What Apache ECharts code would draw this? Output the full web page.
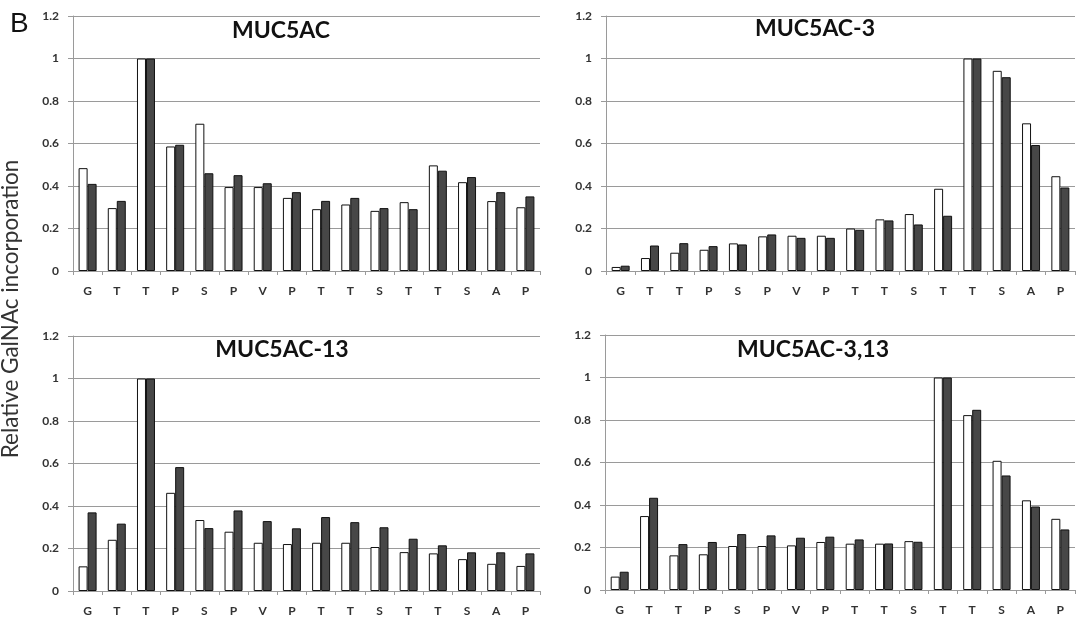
<!DOCTYPE html>
<html>
<head>
<meta charset="utf-8">
<script src="https://cdn.jsdelivr.net/npm/echarts@6/dist/echarts.min.js"></script>
<style>html,body{margin:0;padding:0;background:#fff;}#c{width:1081px;height:628px;}</style>
</head>
<body>
<div id="c"></div>
<script>
const categories = ['G','T','T','P','S','P','V','P','T','T','S','T','T','S','A','P'];
const yTicks = ['0','0.2','0.4','0.6','0.8','1','1.2'];
const titles = ['MUC5AC','MUC5AC-3','MUC5AC-13','MUC5AC-3,13'];

const muc5acWhite = [0.484,0.296,1.0,0.586,0.693,0.395,0.395,0.344,0.291,0.313,0.283,0.324,0.497,0.418,0.329,0.300];
const muc5acDark  = [0.410,0.330,1.0,0.594,0.460,0.451,0.413,0.371,0.330,0.344,0.296,0.291,0.472,0.442,0.371,0.351];

const muc5ac3White = [0.019,0.061,0.086,0.100,0.130,0.163,0.166,0.166,0.200,0.243,0.268,0.387,1.0,0.942,0.695,0.446];
const muc5ac3Dark  = [0.025,0.120,0.131,0.117,0.125,0.172,0.156,0.156,0.194,0.238,0.219,0.260,1.0,0.912,0.593,0.393];

const muc5ac13White = [0.116,0.241,1.0,0.462,0.334,0.279,0.227,0.221,0.227,0.227,0.207,0.183,0.177,0.150,0.128,0.118];
const muc5ac13Dark  = [0.370,0.317,1.0,0.583,0.296,0.379,0.329,0.295,0.348,0.324,0.300,0.246,0.215,0.182,0.182,0.177];

const muc5ac313White = [0.063,0.348,0.163,0.168,0.207,0.207,0.210,0.226,0.218,0.218,0.230,1.0,0.823,0.608,0.422,0.335];
const muc5ac313Dark  = [0.086,0.434,0.216,0.226,0.263,0.257,0.246,0.251,0.238,0.219,0.227,1.0,0.848,0.539,0.393,0.285];

const whiteSets = [muc5acWhite, muc5ac3White, muc5ac13White, muc5ac313White];
const darkSets = [muc5acDark, muc5ac3Dark, muc5ac13Dark, muc5ac313Dark];

const W = 1081, H = 628;
const grids = [
  {left:73, top:16, width:467, height:255},
  {left:606, top:16, width:469, height:255},
  {left:73, top:336, width:467, height:255},
  {left:605, top:335, width:470, height:255}
];
const titlePos = [[281,31],[815,29],[282,350],[813,350]];

const labelFont = {fontFamily:'Lato', fontWeight:'bold', fontSize:12, color:'#333'};
const option = {
  animation:false,
  backgroundColor:'#fff',
  grid: grids.map(g => ({left:g.left, top:g.top, width:g.width, height:g.height, containLabel:false})),
  xAxis: grids.map((g,i) => ({
    type:'category', gridIndex:i, data:categories,
    axisLine:{show:true, lineStyle:{color:'#9a9a9a', width:1}},
    axisTick:{show:true, length:4, lineStyle:{color:'#9a9a9a'}},
    axisLabel:Object.assign({margin:14, interval:0}, labelFont),
    splitLine:{show:false}
  })),
  yAxis: grids.map((g,i) => ({
    type:'value', gridIndex:i, min:0, max:1.2, interval:0.2,
    axisLine:{show:true, lineStyle:{color:'#9a9a9a', width:1}},
    axisTick:{show:true, length:5, lineStyle:{color:'#9a9a9a'}},
    axisLabel:Object.assign({margin:14, formatter:(v)=>{const idx=Math.round(v/0.2); return yTicks[idx];}}, labelFont),
    splitLine:{show:true, lineStyle:{color:'#9a9a9a', width:1}}
  })),
  series: [],
  graphic: [
    {type:'text', left:10, top:10, style:{text:'B', fontFamily:'Liberation Sans', fontSize:28, fill:'#111'}},
    {type:'text', x:11, y:309, rotation:Math.PI/2, style:{text:'Relative GalNAc incorporation', fontFamily:'Lato', fontSize:22.5, fill:'#333', align:'center', verticalAlign:'middle'}}
  ].concat(titles.map((t,i) => ({
    type:'text', x:titlePos[i][0], y:titlePos[i][1],
    style:{text:t, fontFamily:'Lato', fontWeight:'bold', fontSize:23, fill:'#111', align:'center', verticalAlign:'middle'}
  })))
};
for (let i=0;i<4;i++){
  option.series.push({
    type:'bar', xAxisIndex:i, yAxisIndex:i, data:whiteSets[i], barWidth:9, barGap:'0%',
    itemStyle:{color:'#ffffff', borderColor:'#111', borderWidth:1}
  });
  option.series.push({
    type:'bar', xAxisIndex:i, yAxisIndex:i, data:darkSets[i], barWidth:9, barGap:'0%',
    itemStyle:{color:'#474747', borderColor:'#111', borderWidth:1}
  });
}
const chart = echarts.init(document.getElementById('c'), null, {renderer:'canvas', width:W, height:H});
chart.setOption(option);
</script>
</body>
</html>
